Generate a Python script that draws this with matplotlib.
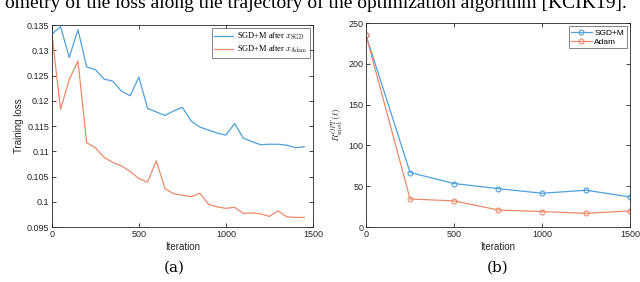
import matplotlib
matplotlib.use("Agg")
import matplotlib.pyplot as plt

plt.rcParams["font.family"] = ["Liberation Sans", "DejaVu Sans"]
plt.rcParams["mathtext.fontset"] = "cm"

BLUE = "#4FA0DC"
ORANGE = "#EB8A6A"
AXC = "#262626"

# --- panel (a): training loss after restart ---------------------------------
iters_a = list(range(0, 1500, 50))
loss_sgd = [0.1332, 0.1347, 0.1286, 0.1341, 0.1267, 0.1262, 0.1243, 0.1239,
            0.1219, 0.1210, 0.1247, 0.1185, 0.1178, 0.1171, 0.1180, 0.1187,
            0.1160, 0.1148, 0.1142, 0.1136, 0.1132, 0.1155, 0.1126, 0.1119,
            0.1113, 0.1114, 0.1114, 0.1112, 0.1107, 0.1109]
loss_adam = [0.1333, 0.1183, 0.1242, 0.1279, 0.1117, 0.1107, 0.1088, 0.1078,
             0.1071, 0.1060, 0.1046, 0.1039, 0.1081, 0.1026, 0.1016, 0.1013,
             0.1010, 0.1017, 0.0995, 0.0990, 0.0987, 0.0989, 0.0977, 0.0978,
             0.0976, 0.0971, 0.0982, 0.0970, 0.0969, 0.0969]
yticks_a = [0.095, 0.1, 0.105, 0.11, 0.115, 0.12, 0.125, 0.13, 0.135]
yticklabels_a = ["0.095", "0.1", "0.105", "0.11", "0.115", "0.12", "0.125", "0.13", "0.135"]

# --- panel (b): R_med^OPT(t) -------------------------------------------------
iters_b = [0, 250, 500, 750, 1000, 1250, 1500]
r_sgd = [235.0, 66.8, 53.3, 47.1, 41.4, 45.1, 36.9]
r_adam = [235.0, 34.4, 32.0, 20.9, 18.9, 16.8, 19.7]
yticks_b = [0, 50, 100, 150, 200, 250]
xticks = [0, 500, 1000, 1500]


def style(ax):
    ax.tick_params(direction="in", length=3, width=0.6, labelsize=6.5,
                   colors=AXC, top=True, right=True, pad=2)
    for s in ax.spines.values():
        s.set_linewidth(0.6)
        s.set_color(AXC)
    ax.set_xlabel("Iteration", fontsize=7, color=AXC, labelpad=2)


fig = plt.figure(figsize=(6.4, 2.82), dpi=100)
ax_a = fig.add_axes([0.081, 0.195, 0.408, 0.716])
ax_b = fig.add_axes([0.572, 0.195, 0.4125, 0.723])

ax_a.plot(iters_a, loss_sgd, color=BLUE, lw=0.9, label=r"SGD+M after $x_{\mathrm{SGD}}$")
ax_a.plot(iters_a, loss_adam, color=ORANGE, lw=0.9, label=r"SGD+M after $x_{\mathrm{Adam}}$")
ax_a.set_xlim(0, 1500)
ax_a.set_ylim(0.095, 0.135)
ax_a.set_xticks(xticks)
ax_a.set_yticks(yticks_a)
ax_a.set_yticklabels(yticklabels_a)
ax_a.set_ylabel("Training loss", fontsize=7, color=AXC, labelpad=2)
style(ax_a)
leg = ax_a.legend(loc="upper right", prop={"family": "Liberation Serif", "size": 6},
                  frameon=True, fancybox=False, edgecolor=AXC, handlelength=2.3,
                  handletextpad=0.4, borderpad=0.3, labelspacing=0.15,
                  borderaxespad=0.4)
leg.get_frame().set_linewidth(0.5)

ax_b.plot(iters_b, r_sgd, color=BLUE, lw=0.9, marker="o", ms=3.5, mfc="none",
          mew=0.8, label="SGD+M")
ax_b.plot(iters_b, r_adam, color=ORANGE, lw=0.9, marker="o", ms=3.5, mfc="none",
          mew=0.8, label="Adam")
ax_b.set_xlim(0, 1500)
ax_b.set_ylim(0, 250)
ax_b.set_xticks(xticks)
ax_b.set_yticks(yticks_b)
ax_b.set_ylabel(r"$R_{\mathrm{med}}^{OPT}(t)$", fontsize=7, color=AXC, labelpad=2)
style(ax_b)
leg = ax_b.legend(loc="upper right", fontsize=6, frameon=True, fancybox=False,
                  edgecolor=AXC, handlelength=2.5, handletextpad=0.3,
                  borderpad=0.3, labelspacing=0.15, borderaxespad=0.4)
leg.get_frame().set_linewidth(0.5)

fig.text(0.273, 0.05, "(a)", fontsize=11, family="DejaVu Serif", ha="center", va="center")
fig.text(0.777, 0.05, "(b)", fontsize=11, family="DejaVu Serif", ha="center", va="center")
# caption line from the page above, clipped at the top edge as in the source
fig.text(0.494, 0.972, "ometry of the loss along the trajectory of the optimization algorithm [KCIK19].",
         fontsize=14, family="Liberation Serif", ha="center", va="baseline")

fig.savefig("out.png", dpi=100)
